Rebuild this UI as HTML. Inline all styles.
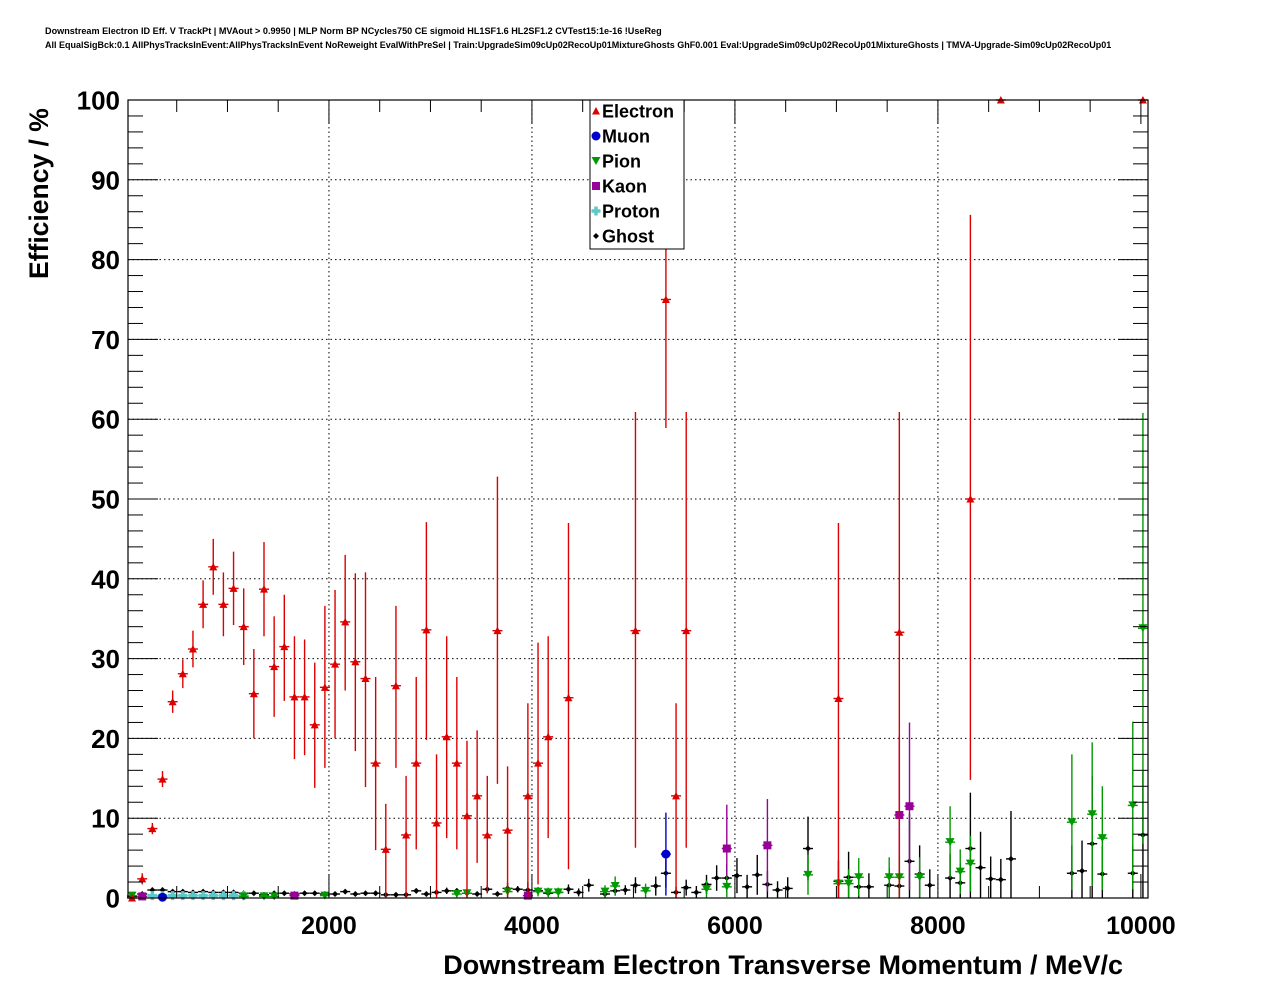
<!DOCTYPE html>
<html><head><meta charset="utf-8"><style>
html,body{margin:0;padding:0;background:#fff;}
svg{display:block;font-family:"Liberation Sans",Arial,sans-serif;}
</style></head><body>
<svg id="chart" width="1276" height="996" viewBox="0 0 1276 996" xmlns="http://www.w3.org/2000/svg">
<rect x="0" y="0" width="1276" height="996" fill="#fff"/>
<text x="45" y="34" font-size="9.1" font-weight="bold">Downstream Electron ID Eff. V TrackPt | MVAout &gt; 0.9950 | MLP Norm BP NCycles750 CE sigmoid HL1SF1.6 HL2SF1.2 CVTest15:1e-16 !UseReg</text>
<text x="45" y="48" font-size="9" font-weight="bold">All EqualSigBck:0.1 AllPhysTracksInEvent:AllPhysTracksInEvent NoReweight EvalWithPreSel | Train:UpgradeSim09cUp02RecoUp01MixtureGhosts GhF0.001 Eval:UpgradeSim09cUp02RecoUp01MixtureGhosts | TMVA-Upgrade-Sim09cUp02RecoUp01</text>
<g id="grid"></g>
<g id="marks"></g>
<g id="axes"></g>
<text transform="translate(48,279) rotate(-90)" font-size="26.5" font-weight="bold">Efficiency / %</text>
<text x="1123" y="974" text-anchor="end" font-size="27" font-weight="bold">Downstream Electron Transverse Momentum / MeV/c</text>
<g id="legend"></g>
</svg>
<script>
// ---- data (bin index k) ----
const xTicks = [2000, 4000, 6000, 8000, 10000];
const yTicks = [0, 10, 20, 30, 40, 50, 60, 70, 80, 90, 100];
const elecBins = [0,1,2,3,4,5,6,7,8,9,10,11,12,13,14,15,16,17,18,19,20,21,22,23,24,25,26,27,28,29,30,31,32,33,34,35,36,37,39,40,41,43,49,52,53,54,69,75,82,85,100];
const elecVals = [0,2.4,8.7,14.9,24.6,28.1,31.2,36.8,41.5,36.8,38.8,34.0,25.6,38.7,29.0,31.5,25.2,25.2,21.7,26.4,29.3,34.6,29.6,27.5,16.9,6.1,26.6,7.9,16.9,33.6,9.4,20.2,16.9,10.3,12.8,7.9,33.5,8.5,12.8,16.9,20.2,25.1,33.5,75.0,12.8,33.5,25.0,33.3,50.0,100,100];
const elecHi = [0,3.1,9.4,15.9,26.0,29.9,33.5,39.8,45.0,40.8,43.4,38.8,31.2,44.6,35.3,38.0,32.8,32.4,29.5,36.6,38.6,43.0,40.7,40.8,27.7,11.8,36.6,15.3,27.7,47.1,18.0,32.8,27.7,19.7,21.0,15.3,52.8,16.5,24.4,32.0,32.8,47.0,60.9,82.5,24.4,60.9,47.0,60.9,85.6,100,100];
const elecLo = [0,1.7,8.0,13.9,23.2,26.3,28.9,33.8,38.0,32.8,34.2,29.2,20.0,32.8,22.7,24.7,17.4,17.9,13.8,16.3,20.0,26.0,18.4,13.9,6.0,0,16.3,0,6.1,19.8,0,7.5,6.1,0,4.4,0.6,14.3,0,0,1.7,7.5,3.6,6.3,58.9,0,6.3,0,0,14.8,100,100];
const ghostBins = [0,1,2,3,4,5,6,7,8,9,10,11,12,13,14,15,16,17,18,19,20,21,22,23,24,25,26,27,28,29,30,31,32,33,34,35,36,37,38,39,40,41,42,43,44,45,46,47,48,49,51,52,53,54,55,56,57,58,59,60,61,62,63,64,66,69,70,71,72,74,75,76,77,78,80,81,82,83,84,85,86,92,93,94,95,99,100];
const ghostVals = [0.2,0.5,1.0,1.0,0.8,0.8,0.7,0.8,0.7,0.7,0.7,0.6,0.6,0.4,0.6,0.6,0.5,0.6,0.6,0.5,0.5,0.8,0.5,0.6,0.6,0.4,0.4,0.4,0.9,0.5,0.7,0.9,0.9,0.6,0.5,1.1,0.5,1.2,1.1,1.0,0.9,0.6,0.7,1.1,0.7,1.6,0.5,0.9,1.0,1.6,1.5,3.1,0.7,1.3,0.7,1.7,2.5,2.5,2.8,1.4,2.9,1.7,1.0,1.2,6.2,2.1,2.6,1.4,1.4,1.6,1.5,4.6,3.0,1.6,2.5,1.9,6.2,3.8,2.4,2.3,4.9,3.1,3.4,6.8,3.0,3.1,7.9];
const ghostErr = [0.2,0.2,0.3,0.3,0.2,0.2,0.2,0.2,0.2,0.2,0.2,0.2,0.2,0.2,0.2,0.2,0.2,0.2,0.2,0.2,0.2,0.3,0.2,0.2,0.3,0.2,0.2,0.3,0.3,0.3,0.3,0.4,0.3,0.4,0.3,0.5,0.3,0.7,0.4,1.0,0.4,0.4,0.4,0.6,0.5,0.8,0.5,0.6,0.6,1.0,1.2,1.8,0.7,1.0,0.8,1.2,1.6,1.7,2.2,1.5,2.5,1.7,1.1,1.4,4.0,2.6,3.2,1.8,1.7,2.2,1.8,6.0,3.6,2.0,3.0,2.4,7.0,4.5,2.8,2.6,6.0,3.5,3.8,8.5,3.5,3.5,8.0];
const pionBins = [0,11,13,14,19,32,33,37,40,41,42,46,47,50,56,58,66,69,70,71,74,75,77,80,81,82,92,94,95,99,100];
const pionVals = [0.3,0.2,0.2,0.2,0.3,0.5,0.6,0.8,0.8,0.7,0.7,0.8,1.5,0.9,1.1,1.4,2.9,1.8,1.8,2.6,2.6,2.6,2.6,7.0,3.3,4.3,9.5,10.5,7.5,11.6,33.8];
const pionErr = [0.2,0.2,0.2,0.2,0.3,0.4,0.5,0.6,0.6,0.6,0.6,0.8,1.2,0.9,1.1,1.3,2.5,1.8,1.8,2.4,2.5,2.5,2.5,4.5,2.8,3.5,8.5,9.0,6.5,10.5,27];
const kaonBins = [1,16,39,58,62,75,76];
const kaonVals = [0.2,0.3,0.3,6.2,6.6,10.4,11.5];
const kaonErr = [0.2,0.3,0.3,5.5,5.8,10,10.5];
const protonBins = [2,3,4,5,6,7,8,9,10,11];
const protonVals = [0.3,0.3,0.3,0.3,0.3,0.3,0.3,0.3,0.3,0.3];
const muonBins = [3,52];
const muonVals = [0.1,5.5];
const muonErr = [0.1,5.2];

// ---- axes ----
const X0 = 128, X1 = 1148, Y0 = 898, Y1 = 100;
const xMin = 20, xMax = 10070, yMin = 0, yMax = 100;
function xs(v){ return X0 + (v - xMin) / (xMax - xMin) * (X1 - X0); }
function ys(v){ return Y0 - (v - yMin) / (yMax - yMin) * (Y0 - Y1); }
// bin centre in MeV
function binX(k){ return k < 46 ? 60 + 100 * k : 120 + 100 * k - (k > 98 ? 100 : 0); }
const NS = 'http://www.w3.org/2000/svg';
function mk(tag, attrs, parent){ const e = document.createElementNS(NS, tag); for (const a in attrs) e.setAttribute(a, attrs[a]); parent.appendChild(e); return e; }
const grid = document.getElementById('grid'), axes = document.getElementById('axes'), marks = document.getElementById('marks'), legend = document.getElementById('legend');

yTicks.forEach(t => {
  if (t > 0 && t < 100) {
    const g = mk('line', {x1:X0, x2:X1, y1:ys(t), y2:ys(t), stroke:'#000', 'stroke-width':1, 'stroke-dasharray':'1.5,3'}, grid);
    
    
  }
  const lab = mk('text', {x:120, y:ys(t)+9.5, 'text-anchor':'end', 'font-size':26, 'font-weight':'bold'}, axes);
  lab.textContent = t;
  
  
});
xTicks.forEach(t => {
  if (t < 10000) {
    const g = mk('line', {x1:xs(t), x2:xs(t), y1:Y0, y2:Y1, stroke:'#000', 'stroke-width':1, 'stroke-dasharray':'1.5,3'}, grid);
    
    
  }
  const lab = mk('text', {x:xs(t), y:934, 'text-anchor':'middle', 'font-size':25, 'font-weight':'bold'}, axes);
  lab.textContent = t;
  
  
});
for (let v = 2; v < 100; v += 2) {
  const L = (v % 10 === 0) ? 30 : 15;
  mk('line', {x1:X0, x2:X0+L, y1:ys(v), y2:ys(v), stroke:'#000'}, axes);
  mk('line', {x1:X1, x2:X1-L, y1:ys(v), y2:ys(v), stroke:'#000'}, axes);
}
for (let v = 500; v < 10070; v += 500) {
  const L = (v % 2000 === 0) ? 24 : 12;
  mk('line', {x1:xs(v), x2:xs(v), y1:Y0, y2:Y0-L, stroke:'#000'}, axes);
  mk('line', {x1:xs(v), x2:xs(v), y1:Y1, y2:Y1+L, stroke:'#000'}, axes);
}
const frame = mk('rect', {x:X0, y:Y1, width:X1-X0, height:Y0-Y1, fill:'none', stroke:'#000', 'stroke-width':1.2}, axes);



function marker(type, cx, cy, color, parent){
  if (type === 'tri') mk('path', {d:`M${cx-4},${cy+3.5} L${cx+4},${cy+3.5} L${cx},${cy-4} Z`, fill:color}, parent);
  else if (type === 'dtri') mk('path', {d:`M${cx-4.5},${cy-4} L${cx+4.5},${cy-4} L${cx},${cy+4} Z`, fill:color}, parent);
  else if (type === 'sq') mk('rect', {x:cx-4, y:cy-4, width:8, height:8, fill:color}, parent);
  else if (type === 'circ') mk('circle', {cx:cx, cy:cy, r:4.5, fill:color}, parent);
  else if (type === 'cross') mk('path', {d:`M${cx-4.5},${cy-1.7}h9v3.4h-9z M${cx-1.7},${cy-4.5}h3.4v9h-3.4z`, fill:color}, parent);
  else if (type === 'diam') mk('path', {d:`M${cx-3},${cy} L${cx},${cy-3} L${cx+3},${cy} L${cx},${cy+3} Z`, fill:color}, parent);
}
function series(name, bins, vals, lo, hi, color, type){
  const g = mk('g', {}, marks);
  
  
  bins.forEach((k, i) => {
    const cx = xs(binX(k)), cy = ys(Math.min(vals[i], 100));
    const pt = mk('g', {}, g);
    
    
    const yl = ys(Math.max(0, lo[i])), yh = ys(Math.min(100, hi[i]));
    mk('line', {x1:cx, x2:cx, y1:yl, y2:yh, stroke:color, 'stroke-width':1.4}, pt);
    mk('line', {x1:cx-5, x2:cx+5, y1:cy, y2:cy, stroke:color, 'stroke-width':1.4}, pt);
    marker(type, cx, cy, color, pt);
  });
}
series('ghost', ghostBins, ghostVals, ghostVals.map((v,i)=>v-ghostErr[i]), ghostVals.map((v,i)=>v+ghostErr[i]), '#000', 'diam');
series('proton', protonBins, protonVals, protonVals, protonVals, '#5cc8c8', 'cross');
series('kaon', kaonBins, kaonVals, kaonVals.map((v,i)=>v-kaonErr[i]), kaonVals.map((v,i)=>v+kaonErr[i]), '#990099', 'sq');
series('pion', pionBins, pionVals, pionVals.map((v,i)=>v-pionErr[i]), pionVals.map((v,i)=>v+pionErr[i]), '#009900', 'dtri');
series('muon', muonBins, muonVals, muonVals.map((v,i)=>v-muonErr[i]), muonVals.map((v,i)=>v+muonErr[i]), '#0000cc', 'circ');
series('electron', elecBins, elecVals, elecLo, elecHi, '#dd0000', 'tri');

const legendNames = ['Electron','Muon','Pion','Kaon','Proton','Ghost'];
const legendColors = ['#dd0000','#0000cc','#009900','#990099','#5cc8c8','#000'];
const legendTypes = ['tri','circ','dtri','sq','cross','diam'];
const lb = mk('rect', {x:590, y:100, width:94, height:149, fill:'#fff', stroke:'#000', 'stroke-width':1}, legend);


legendNames.forEach((n, i) => {
  const g = mk('g', {}, legend);
  
  
  const cy = 111 + i * 25;
  marker(legendTypes[i], 596, cy, legendColors[i], g);
  const t = mk('text', {x:602, y:cy+6.5, 'font-size':18, 'font-weight':'bold'}, g);
  t.textContent = n;
});
</script>
</body></html>
